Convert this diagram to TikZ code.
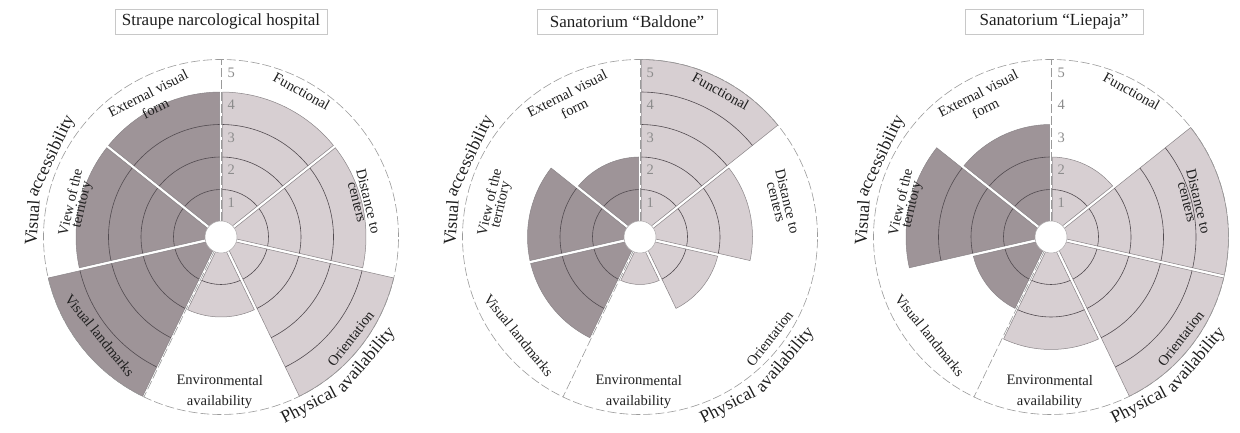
\documentclass[tikz,border=0pt]{standalone}
\usepackage{fontspec}
\setmainfont{Liberation Serif}
\definecolor{darkfill}{HTML}{9E9498}
\definecolor{lightfill}{HTML}{D7CFD2}
\definecolor{ringcol}{HTML}{524B50}
\definecolor{edgecol}{HTML}{8A8588}
\definecolor{dashcol}{HTML}{9A9A9A}
\definecolor{numcol}{HTML}{8C8C8C}
\definecolor{boxcol}{HTML}{C8C8C8}
\definecolor{txtcol}{HTML}{1E1E1E}
\newcommand\lblfont{\fontsize{14.5}{17}\selectfont}
\newcommand\grpfont{\fontsize{17.8}{21}\selectfont}
\tikzset{
  ringline/.style={draw=ringcol,line width=0.6pt},
  sectoredge/.style={draw=edgecol,line width=0.5pt},
  dashline/.style={draw=dashcol,line width=0.6pt,dash pattern=on 9pt off 3pt},
  numlbl/.style={text=numcol,font=\lblfont,inner sep=0pt,anchor=west},
  lbl/.style={text=txtcol,inner sep=0pt,anchor=base},
  titlebox/.style={draw=boxcol,line width=0.6pt,font=\fontsize{17}{20}\selectfont,minimum height=25pt,inner sep=0pt,text=txtcol}
}
% name, angle, baseline radius, font, text  (cw: reads clockwise, tops outward)
\newcommand\cwnode[5]{\node[lbl,font=#4,rotate=#2-90] (#1) at (#2:#3) {#5};}
% ccw: reads counter-clockwise, tops inward
\newcommand\ccwnode[5]{\node[lbl,font=#4,rotate=#2+90] (#1) at (#2:#3) {#5};}
% #1 name, #2 centre x, #3 values, #4 title x, #5 box width, #6 title
\newcommand\radar[6]{%
\begin{scope}[shift={(#2,196)}]
  \foreach \v [count=\i] in {#3} {
    \pgfmathsetmacro\tA{90-(\i-1)*360/7}
    \pgfmathsetmacro\tB{\tA-360/7}
    \pgfmathsetmacro\tM{\tA-180/7}
    \pgfmathsetmacro\R{15+32.5*\v}
    \pgfmathsetmacro\dl{asin(1.5/\R)}
    \pgfmathsetmacro\sa{\tB+\dl}
    \pgfmathsetmacro\ea{\tA-\dl}
    \ifnum\i<5 \def\fc{lightfill}\else\def\fc{darkfill}\fi
    \filldraw[fill=\fc,sectoredge] (\tM:3.46) -- (\sa:\R) arc[start angle=\sa,end angle=\ea,radius=\R pt] -- cycle;
    \ifnum\v>1
      \pgfmathtruncatemacro\vm{\v-1}
      \foreach \k in {1,...,\vm} {
        \pgfmathsetmacro\rr{15+32.5*\k}
        \pgfmathsetmacro\dk{asin(1.5/\rr)}
        \pgfmathsetmacro\sk{\tB+\dk}
        \pgfmathsetmacro\ek{\tA-\dk}
        \draw[ringline] (\sk:\rr) arc[start angle=\sk,end angle=\ek,radius=\rr pt];
      }
    \fi
  }
  \filldraw[fill=white,draw=edgecol!70,line width=0.5pt] (0,0) circle[radius=16pt];
  \draw[dashline] (0,0) circle[radius=177.5pt];
  \draw[dashline] (90:16) -- (90:177.5);
  \draw[dashline] (-115.714:16) -- (-115.714:177.5);
  \foreach \k in {1,...,5} \node[numlbl] (#1num\k) at (6.5,{15+32.5*\k-13}) {\k};
  \cwnode{#1ext}{117}{156}{\lblfont}{External visual}
  \cwnode{#1form}{117}{139.5}{\lblfont}{form}
  \cwnode{#1fun}{61}{161.5}{\lblfont}{Functional}
  \cwnode{#1dist}{13.7}{147}{\lblfont}{Distance to}
  \cwnode{#1cent}{14.3}{136}{\lblfont}{centers}
  \ccwnode{#1ori}{-38}{169.5}{\lblfont}{Orientation}
  \ccwnode{#1env}{-90.5}{148}{\lblfont}{Environmental}
  \ccwnode{#1avail}{-90.5}{168.5}{\lblfont}{availability}
  \ccwnode{#1land}{-141}{161}{\lblfont}{Visual landmarks}
  \cwnode{#1view}{167}{150}{\lblfont}{View of the}
  \cwnode{#1terr}{167}{139}{\lblfont}{territory}
  \cwnode{#1va}{175.7}{183.5}{\grpfont}{Visual}
  \cwnode{#1vb}{154.4}{183.5}{\grpfont}{accessibility}
  \ccwnode{#1pa}{-62.4}{195}{\grpfont}{Physical}
  \ccwnode{#1pb}{-40.3}{195}{\grpfont}{availability}
  \node[titlebox,minimum width=#5pt] (#1title) at (#4-#2,215.5) {#6};
\end{scope}}
\begin{document}
\begin{tikzpicture}[x=1pt,y=1pt]
\useasboundingbox (0,0) rectangle (1240,433);
\radar{a}{221}{4,4,5,2,5,4,4}{221}{212}{Straupe narcological hospital}
\radar{b}{640}{5,3,2,1,3,3,2}{627}{180}{Sanatorium “Baldone”}
\radar{c}{1051}{2,5,5,3,2,4,3}{1054}{178}{Sanatorium “Liepaja”}
\end{tikzpicture}
\end{document}
